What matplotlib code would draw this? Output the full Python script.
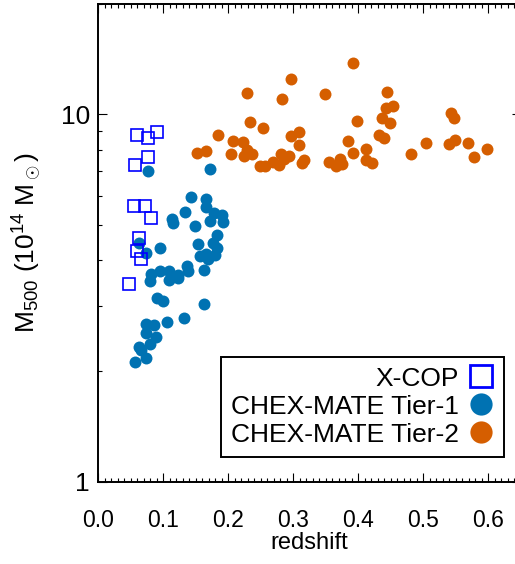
import matplotlib
matplotlib.use("Agg")
import matplotlib.pyplot as plt
from matplotlib.lines import Line2D
from matplotlib.ticker import MultipleLocator, LogLocator, NullFormatter, FixedLocator, FixedFormatter

plt.rcParams['font.family'] = ['Liberation Sans', 'DejaVu Sans']
plt.rcParams['mathtext.fontset'] = 'custom'
plt.rcParams['mathtext.rm'] = 'Liberation Sans'
plt.rcParams['mathtext.it'] = 'Liberation Sans'
plt.rcParams['mathtext.bf'] = 'Liberation Sans'

# X-COP sample
xcop_z = [0.059, 0.077, 0.091, 0.077, 0.056, 0.055, 0.072, 0.081, 0.062, 0.060, 0.065, 0.047]
xcop_m = [8.77, 8.62, 8.92, 7.62, 7.26, 5.61, 5.61, 5.22, 4.61, 4.23, 4.04, 3.45]

# CHEX-MATE Tier-1
t1_z = [0.077, 0.172, 0.143, 0.165, 0.134, 0.166, 0.178, 0.190, 0.113, 0.115,
        0.148, 0.172, 0.191, 0.183, 0.176, 0.153, 0.183, 0.063, 0.073, 0.095,
        0.157, 0.165, 0.179, 0.169, 0.136, 0.138, 0.081, 0.095, 0.108, 0.123,
        0.080, 0.108, 0.123, 0.163, 0.091, 0.099, 0.163, 0.132, 0.105, 0.073,
        0.086, 0.074, 0.088, 0.079, 0.062, 0.065, 0.073, 0.057]
t1_m = [7.01, 7.10, 5.93, 5.86, 5.43, 5.57, 5.37, 5.31, 5.17, 5.06,
        4.95, 5.11, 5.08, 4.69, 4.46, 4.44, 4.31, 4.47, 4.20, 4.31,
        4.10, 4.15, 4.14, 4.04, 3.85, 3.73, 3.67, 3.75, 3.73, 3.65,
        3.52, 3.54, 3.58, 3.77, 3.15, 3.09, 3.05, 2.79, 2.72, 2.69,
        2.67, 2.53, 2.48, 2.37, 2.32, 2.28, 2.17, 2.12]

# CHEX-MATE Tier-2
t2_z = [0.391, 0.297, 0.229, 0.283, 0.349, 0.444, 0.443, 0.453, 0.436, 0.449,
        0.398, 0.234, 0.253, 0.542, 0.547, 0.184, 0.207, 0.223, 0.296, 0.308,
        0.308, 0.431, 0.440, 0.384, 0.504, 0.539, 0.548, 0.568, 0.598, 0.577,
        0.481, 0.152, 0.165, 0.204, 0.224, 0.228, 0.236, 0.249, 0.256, 0.269,
        0.278, 0.281, 0.286, 0.293, 0.313, 0.316, 0.354, 0.365, 0.372, 0.375,
        0.391, 0.411, 0.412, 0.421]
t2_m = [13.74, 12.46, 11.39, 10.99, 11.34, 11.50, 10.40, 10.55, 9.77, 9.47,
        9.59, 9.49, 9.17, 10.09, 9.77, 8.75, 8.43, 8.39, 8.73, 8.96,
        8.26, 8.77, 8.62, 8.44, 8.32, 8.27, 8.48, 8.32, 8.02, 7.66,
        7.77, 7.82, 7.94, 7.77, 7.68, 7.99, 7.77, 7.23, 7.23, 7.39,
        7.29, 7.79, 7.55, 7.69, 7.38, 7.52, 7.40, 7.23, 7.56, 7.33,
        7.82, 8.06, 7.49, 7.38]

labels = ['X-COP', 'CHEX-MATE Tier-1', 'CHEX-MATE Tier-2']
c_blue = '#0072B2'
c_orange = '#D55E00'
c_sq = '#0000FF'

xticks = [0.0, 0.1, 0.2, 0.3, 0.4, 0.5, 0.6]
xticklabels = ['0.0', '0.1', '0.2', '0.3', '0.4', '0.5', '0.6']
yticks = [1, 10]
yticklabels = ['1', '10']

W, H = 515, 564
fig = plt.figure(figsize=(W / 100, H / 100), dpi=100)
left, right, top, bottom = 98.3, 521.0, 3.5, 481.5
ax = fig.add_axes([left / W, (H - bottom) / H, (right - left) / W, (bottom - top) / H])

ax.plot(t1_z, t1_m, 'o', color=c_blue, ms=8.6, mec='none', zorder=3)
ax.plot(t2_z, t2_m, 'o', color=c_orange, ms=8.6, mec='none', zorder=3)
ax.plot(xcop_z, xcop_m, 's', mfc='none', mec=c_sq, ms=8.0, mew=1.2, zorder=4)

ax.set_yscale('log')
ax.set_xlim(0, 0.65)
ax.set_ylim(1, 20)

ax.xaxis.set_major_locator(FixedLocator(xticks))
ax.xaxis.set_major_formatter(FixedFormatter(xticklabels))
ax.xaxis.set_minor_locator(MultipleLocator(0.01))
ax.yaxis.set_major_locator(FixedLocator(yticks))
ax.yaxis.set_major_formatter(FixedFormatter(yticklabels))
ax.yaxis.set_minor_locator(LogLocator(base=10, subs=range(2, 10)))
ax.yaxis.set_minor_formatter(NullFormatter())

for s in ax.spines.values():
    s.set_linewidth(1.4)

ax.tick_params(which='both', direction='in', top=True, right=True, width=0.8, color='black')
ax.tick_params(which='major', length=6.5)
ax.tick_params(which='minor', length=3.0)
ax.tick_params(axis='x', which='major', pad=19.5, labelsize=16.5)
ax.tick_params(axis='y', which='major', pad=6, labelsize=19)

ax.set_xlabel('redshift', fontsize=17, labelpad=0.5)
ax.set_ylabel(r'M$_{\mathregular{500}}$ (10$^{\mathregular{14}}$ M$_\odot$)', fontsize=19, labelpad=12)

handles = [
    Line2D([], [], linestyle='none', marker='s', mfc='none', mec=c_sq, ms=16.5, mew=2.0),
    Line2D([], [], linestyle='none', marker='o', color=c_blue, mec='none', ms=16),
    Line2D([], [], linestyle='none', marker='o', color=c_orange, mec='none', ms=16),
]
leg = ax.legend(handles, labels, loc='lower right', bbox_to_anchor=(0.9605, 0.052),
                borderaxespad=0, markerfirst=False, fontsize=19, frameon=True,
                fancybox=False, shadow=False, framealpha=1, edgecolor='black',
                handlelength=1.0, handletextpad=0.35, borderpad=0.38, labelspacing=0.15)
leg.get_frame().set_linewidth(1.4)

fig.savefig('out.png', dpi=100)
